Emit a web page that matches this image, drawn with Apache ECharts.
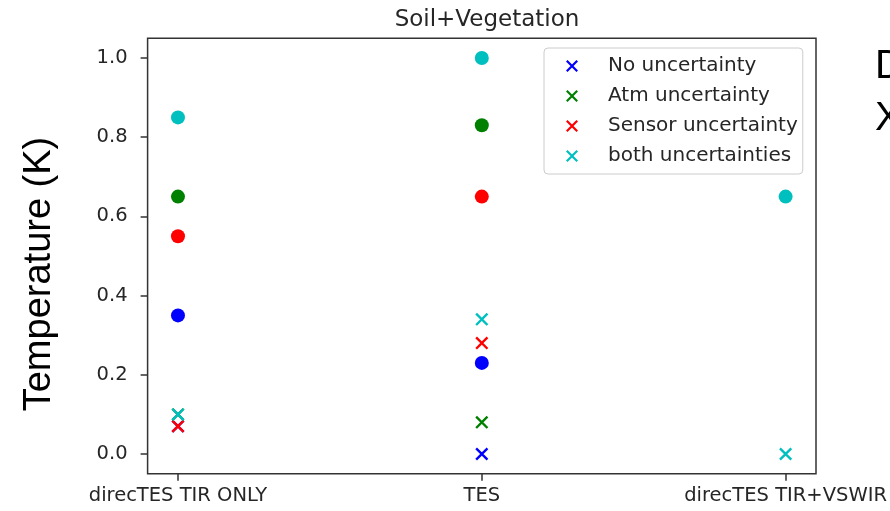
<!DOCTYPE html>
<html>
<head>
<meta charset="utf-8">
<title>Soil+Vegetation</title>
<script src="https://cdn.jsdelivr.net/npm/echarts@6/dist/echarts.min.js"></script>
<style>
  html, body { margin: 0; padding: 0; background: #fff; }
  #chart { width: 890px; height: 511px; }
</style>
</head>
<body>
<div id="chart"></div>
<script>
// Retrieval methods on the x axis
const categories = ['direcTES TIR ONLY', 'TES', 'direcTES TIR+VSWIR'];
const yTicks = [0.0, 0.2, 0.4, 0.6, 0.8, 1.0];

// Cross markers (shown in the legend)
const noUncertaintyX   = [0.07, 0.00, null];
const atmUncertaintyX  = [0.10, 0.08, null];
const sensorUncertaintyX = [0.07, 0.28, null];
const bothUncertaintiesX = [0.10, 0.34, 0.00];

// Filled circle markers
const noUncertaintyO   = [0.35, 0.23, null];
const atmUncertaintyO  = [0.65, 0.83, null];
const sensorUncertaintyO = [0.55, 0.65, null];
const bothUncertaintiesO = [0.85, 1.00, 0.65];

const seriesNames = ['No uncertainty', 'Atm uncertainty', 'Sensor uncertainty', 'both uncertainties'];
const colors = ['#0000ff', '#008000', '#ff0000', '#00bfbf'];

// 'x' marker drawn as two crossing bars
const crossPath = 'path://M0,1.3 L1.3,0 L10,8.7 L8.7,10 Z M8.7,0 L10,1.3 L1.3,10 L0,8.7 Z';

function toPoints(values) {
  const pts = [];
  values.forEach((v, i) => { if (v !== null) pts.push([i, v]); });
  return pts;
}

const crossSets = [noUncertaintyX, atmUncertaintyX, sensorUncertaintyX, bothUncertaintiesX];
const circleSets = [noUncertaintyO, atmUncertaintyO, sensorUncertaintyO, bothUncertaintiesO];

const series = [];
crossSets.forEach((vals, k) => {
  series.push({
    name: seriesNames[k],
    type: 'scatter',
    symbol: crossPath,
    symbolSize: 13,
    itemStyle: { color: colors[k], opacity: 1 },
    emphasis: { disabled: true },
    data: toPoints(vals),
    z: 3
  });
});
circleSets.forEach((vals, k) => {
  series.push({
    name: seriesNames[k] + ' (circle)',
    type: 'scatter',
    symbol: 'circle',
    symbolSize: 14,
    itemStyle: { color: colors[k], opacity: 1 },
    emphasis: { disabled: true },
    data: toPoints(vals),
    z: 2
  });
});

const textColor = '#262626';
const lineColor = '#333';
const baseFont = 'DejaVu Sans';

const chart = echarts.init(document.getElementById('chart'), null, { renderer: 'canvas' });
chart.setOption({
  animation: false,
  backgroundColor: '#fff',
  title: {
    text: 'Soil+Vegetation',
    left: 482,
    textAlign: 'center',
    top: 4,
    textStyle: { fontFamily: baseFont, fontSize: 23, fontWeight: 'normal', color: textColor }
  },
  grid: {
    left: 147.6, right: 73.6, top: 38.2, bottom: 37.2,
    show: true, borderColor: lineColor, borderWidth: 1.5, backgroundColor: 'transparent'
  },
  legend: {
    data: seriesNames,
    orient: 'vertical',
    left: 544,
    top: 48,
    padding: [8, 5, 8, 22],
    itemWidth: 12,
    itemHeight: 12,
    itemGap: 10,
    borderColor: '#cccccc',
    borderWidth: 1,
    borderRadius: 4,
    backgroundColor: 'rgba(255,255,255,0.8)',
    textStyle: { fontFamily: baseFont, fontSize: 20, lineHeight: 20, color: textColor, padding: [0, 0, 0, 25] }
  },
  xAxis: {
    type: 'value',
    min: -0.1,
    max: 2.1,
    axisLine: { show: false, onZero: false },
    splitLine: { show: false },
    axisTick: { show: true, length: 7, customValues: [0, 1, 2], lineStyle: { color: lineColor, width: 1.5 } },
    axisLabel: {
      customValues: [0, 1, 2],
      margin: 12,
      fontFamily: baseFont, fontSize: 19.5, color: textColor,
      formatter: v => categories[Math.round(v)]
    }
  },
  yAxis: {
    type: 'value',
    min: -0.05,
    max: 1.05,
    axisLine: { show: false, onZero: false },
    splitLine: { show: false },
    axisTick: { show: true, length: 7, customValues: yTicks, lineStyle: { color: lineColor, width: 1.5 } },
    axisLabel: {
      customValues: yTicks,
      margin: 20,
      fontFamily: baseFont, fontSize: 19.5, color: textColor,
      formatter: v => v.toFixed(1)
    }
  },
  graphic: [
    {
      type: 'text',
      x: 40, y: 274,
      rotation: Math.PI / 2,
      style: {
        text: 'Temperature (K)',
        font: '38px "Liberation Sans"',
        fill: '#000',
        align: 'center',
        verticalAlign: 'middle'
      }
    },
    {
      type: 'text',
      x: 875, y: 47,
      style: { text: 'D', font: '40px "Liberation Sans"', fill: '#000', align: 'left', verticalAlign: 'top' }
    },
    {
      type: 'text',
      x: 875, y: 99,
      style: { text: 'X', font: '40px "Liberation Sans"', fill: '#000', align: 'left', verticalAlign: 'top' }
    }
  ],
  series: series
});
</script>
</body>
</html>
